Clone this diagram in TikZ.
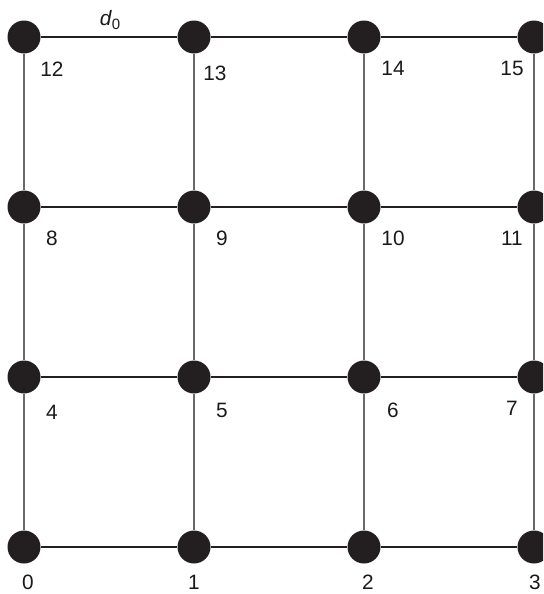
\documentclass[tikz,border=0pt]{standalone}
\usepackage{fontspec}
\setmainfont{Liberation Sans}
\definecolor{dotcol}{RGB}{35,31,32}
\definecolor{hcol}{RGB}{35,31,32}
\definecolor{vcol}{RGB}{105,105,105}
\begin{document}
\begin{tikzpicture}[x=0.5pt,y=-0.5pt,
  dot/.style={circle,fill=dotcol,draw=none,minimum size=16.5pt,inner sep=0pt},
  lab/.style={inner sep=0pt,font=\fontsize{10.4}{12}\selectfont,text=black!90},
  hline/.style={draw=hcol,line width=0.6pt},
  vline/.style={draw=vcol,line width=0.6pt}]
\useasboundingbox (0,0) rectangle (543,594);
\clip (0,0) rectangle (543,594);
% nodes
\foreach \i in {0,...,15}{
  \pgfmathtruncatemacro{\c}{mod(\i,4)}
  \pgfmathtruncatemacro{\r}{div(\i,4)}
  \node[dot] (n\i) at ({24+170*\c},{547-170*\r}) {};
}
% horizontal edges
\foreach \a/\b in {0/1,1/2,2/3,4/5,5/6,6/7,8/9,9/10,10/11,12/13,13/14,14/15}
  \draw[hline] (n\a) -- (n\b);
% vertical edges
\foreach \a/\b in {0/4,4/8,8/12,1/5,5/9,9/13,2/6,6/10,10/14,3/7,7/11,11/15}
  \draw[vline] (n\a) -- (n\b);
% labels
\foreach \i/\x/\y in {0/28/582,1/194/582,2/368/582,3/535/582,
  4/52/412,5/222/410,6/393/410,7/512/408,
  8/52/238,9/222/238,10/393/238,11/512/238,
  12/52/69,13/215/73,14/393/68,15/512/68}
  \node[lab] (l\i) at (\x,\y) {\i};
\node[lab] (d0) at (110,20) {\textit{d}\raisebox{-0.35ex}{\fontsize{7.5}{9}\selectfont 0}};
\end{tikzpicture}
\end{document}
